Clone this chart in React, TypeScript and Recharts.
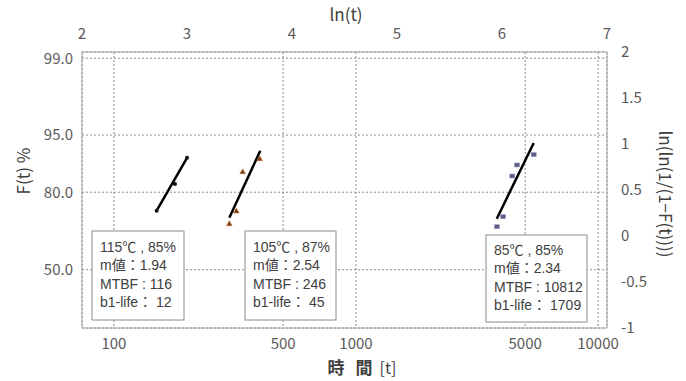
import React from 'react';
import { ComposedChart, Scatter, XAxis, YAxis, CartesianGrid, Customized } from 'recharts';

// Axis ticks
const lnTicks = [2, 3, 4, 5, 6, 7];
const timeTicks = [100, 500, 1000, 5000, 10000];
const timeDomain = [73.8, 10890];
const weibullTicks = [-1, -0.5, 0, 0.5, 1, 1.5, 2];
const fPercentPositions = [99.9, 95, 80, 50];
const fTickLabels = ['99.0', '95.0', '80.0', '50.0'];

// 115°C, 85%
const s115LnT = [2.711, 2.886, 3.0];
const s115W = [0.275, 0.565, 0.851];
const s115FitLnT = [2.711, 3.007];
const s115FitW = [0.275, 0.862];

// 105°C, 87%
const s105LnT = [3.403, 3.47, 3.53, 3.692];
const s105W = [0.134, 0.272, 0.699, 0.84];
const s105FitLnT = [3.403, 3.698];
const s105FitW = [0.199, 0.927];

// 85°C, 85%
const s85LnT = [5.952, 6.01, 6.098, 6.143, 6.302];
const s85W = [0.101, 0.21, 0.652, 0.772, 0.884];
const s85FitLnT = [5.95, 6.302];
const s85FitW = [0.188, 1.011];

const boxLines115 = ['115℃ , 85%', 'm値：1.94', 'MTBF : 116', 'b1-life： 12'];
const boxLines105 = ['105℃ , 87%', 'm値：2.54', 'MTBF : 246', 'b1-life： 45'];
const boxLines85 = ['85℃ , 85%', 'm値：2.34', 'MTBF : 10812', 'b1-life： 1709'];

const zip = (xs: number[], ys: number[]) => xs.map((x, i) => ({ x, y: ys[i] }));
const weibull = (f: number) => Math.log(-Math.log(1 - f / 100));
const fTicks = fPercentPositions.map(weibull);
const fLabelFor = (v: number) => {
  const i = fTicks.findIndex((t) => Math.abs(t - v) < 1e-6);
  return i >= 0 ? fTickLabels[i] : '';
};
const logTimeTicks = timeTicks.map((t) => Math.log10(t));
const logTimeDomain = timeDomain.map((t) => Math.log10(t));
const timeLabelFor = (v: number) => String(Math.round(Math.pow(10, v)));
// anchor points so the time axis gets a domain (not drawn)
const timeAnchor = logTimeDomain.map((x) => ({ x, y: 0 }));

const FONT = "'Noto Sans CJK JP', 'Open Sans', sans-serif";
const BOX_FONT = "'Liberation Sans', 'Noto Sans CJK JP', sans-serif";
const TICK = { fill: '#595959', fontSize: 15, fontFamily: FONT };

const dot = (p: any) => <circle cx={p.cx} cy={p.cy} r={2} fill="#111" />;
const tri = (p: any) => (
  <path d={`M${p.cx},${p.cy - 2.8} L${p.cx + 2.8},${p.cy + 2} L${p.cx - 2.8},${p.cy + 2} Z`} fill="#7a3a12" stroke="#c07040" strokeWidth={0.6} />
);
const sq = (p: any) => <rect x={p.cx - 2.5} y={p.cy - 2} width={5} height={4} fill="#5c5c8a" stroke="#9a9ac0" strokeWidth={0.6} />;
const none = () => <g />;

const Box = ({ x, y, w, h, lines, dy }: { x: number; y: number; w: number; h: number; lines: string[]; dy: number }) => (
  <g>
    <rect x={x} y={y} width={w} height={h} fill="#fff" stroke="#8c8c8c" strokeWidth={1} />
    {lines.map((t, i) => (
      <text key={i} x={x + 8} y={y + dy + i * 18.3} fontSize={14} fill="#404040" fontFamily={BOX_FONT}>
        {t}
      </text>
    ))}
  </g>
);

const Overlay = () => (
  <g>
    <text x={346} y={21} textAnchor="middle" fontSize={17} fill="#404040" fontFamily={FONT}>ln(t)</text>
    <text x={0} y={0} transform="translate(30,171) rotate(-90)" textAnchor="middle" fontSize={17} fill="#404040" fontFamily={FONT}>F(t)  %</text>
    <text x={0} y={0} transform="translate(659,194) rotate(90)" textAnchor="middle" fontSize={17} fill="#404040" fontFamily={FONT}>ln(ln(1/(1−F(t))))</text>
    <text x={336} y={374} textAnchor="middle" fontSize={17} fontWeight="bold" fill="#404040" fontFamily={FONT}>時</text>
    <text x={364} y={374} textAnchor="middle" fontSize={17} fontWeight="bold" fill="#404040" fontFamily={FONT}>間</text>
    <text x={388} y={374} textAnchor="middle" fontSize={16} fill="#404040" fontFamily={FONT}>[t]</text>
    <Box x={92} y={231} w={92} h={89} lines={boxLines115} dy={21} />
    <Box x={245} y={231} w={91} h={89} lines={boxLines105} dy={21} />
    <Box x={486} y={235} w={101} h={87} lines={boxLines85} dy={20} />
  </g>
);

export default function App() {
  return (
    <div style={{ position: 'absolute', left: 0, top: 0, width: 686, height: 381, background: '#fff' }}>
      <ComposedChart width={686} height={381} margin={{ top: 22, right: 19, bottom: 23, left: 22 }}>
        <XAxis xAxisId="ln" orientation="top" type="number" dataKey="x" domain={[2, 7]} ticks={lnTicks} allowDataOverflow
          height={30} tick={TICK} tickLine={false} tickMargin={7} axisLine={{ stroke: '#a6a6a6' }} />
        <XAxis xAxisId="t" orientation="bottom" type="number" dataKey="x" domain={logTimeDomain} ticks={logTimeTicks} allowDataOverflow
          tickFormatter={timeLabelFor} height={30} tick={TICK} tickLine={false} tickMargin={4} axisLine={{ stroke: '#a6a6a6' }} />
        <YAxis yAxisId="w" orientation="right" type="number" dataKey="y" domain={[-1, 2]} ticks={weibullTicks} allowDataOverflow
          width={60} tick={{ ...TICK, textAnchor: 'start' }} tickLine={false} tickMargin={8} axisLine={{ stroke: '#a6a6a6' }} />
        <YAxis yAxisId="F" orientation="left" type="number" dataKey="y" domain={[-1, 2]} ticks={fTicks} allowDataOverflow
          width={60} tick={TICK} tickFormatter={fLabelFor} tickLine={false} tickMargin={3} axisLine={{ stroke: '#a6a6a6' }} />
        <CartesianGrid xAxisId="t" yAxisId="F" stroke="#6e6e6e" strokeDasharray="2 2" strokeWidth={0.8} />
        <Scatter xAxisId="t" yAxisId="F" data={timeAnchor} shape={none} isAnimationActive={false} />
        <Scatter xAxisId="ln" yAxisId="w" data={zip(s115FitLnT, s115FitW)} line={{ stroke: '#000', strokeWidth: 2.5 }} shape={none} isAnimationActive={false} />
        <Scatter xAxisId="ln" yAxisId="w" data={zip(s105FitLnT, s105FitW)} line={{ stroke: '#000', strokeWidth: 2.5 }} shape={none} isAnimationActive={false} />
        <Scatter xAxisId="ln" yAxisId="w" data={zip(s85FitLnT, s85FitW)} line={{ stroke: '#000', strokeWidth: 2.5 }} shape={none} isAnimationActive={false} />
        <Scatter xAxisId="ln" yAxisId="w" data={zip(s115LnT, s115W)} shape={dot} isAnimationActive={false} />
        <Scatter xAxisId="ln" yAxisId="w" data={zip(s105LnT, s105W)} shape={tri} isAnimationActive={false} />
        <Scatter xAxisId="ln" yAxisId="w" data={zip(s85LnT, s85W)} shape={sq} isAnimationActive={false} />
        <Customized component={Overlay} />
      </ComposedChart>
    </div>
  );
}
